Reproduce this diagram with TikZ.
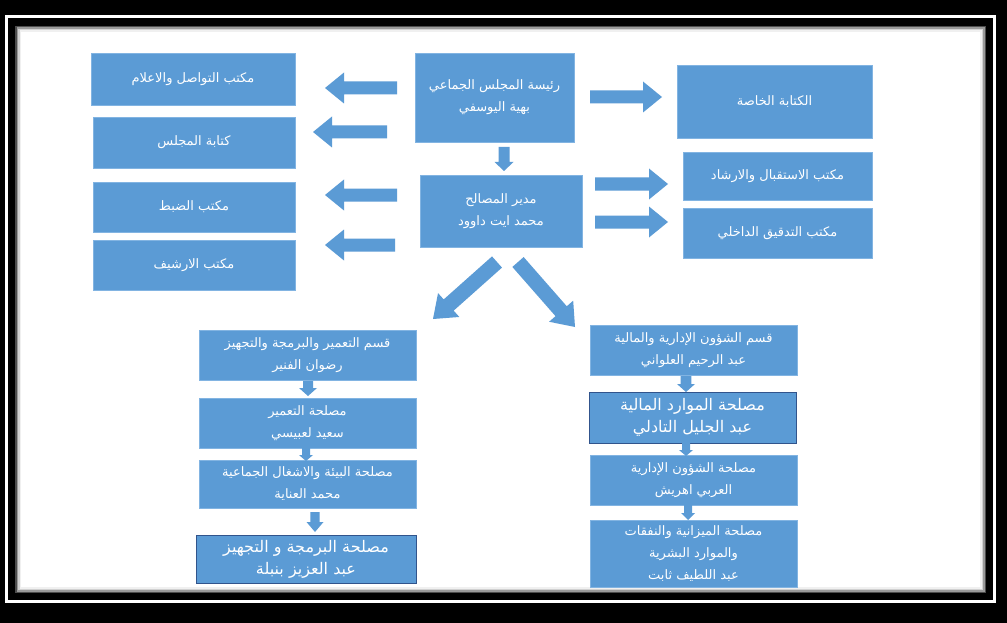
\documentclass[tikz,border=0pt]{standalone}
\usepackage{fontspec}
\newfontfamily\arabicfont[Script=Arabic]{DejaVu Sans}
\TeXXeTstate=1
\usetikzlibrary{calc}
\definecolor{boxblue}{RGB}{91,155,213}
\definecolor{boxedge}{RGB}{130,180,226}
\definecolor{darkedge}{RGB}{49,84,140}
\newcommand\artext[1]{\beginR#1\endR}
% #1 tail coordinate, #2 tip coordinate, #3 half shaft width, #4 half head width, #5 head length
\newcommand\blockarrow[5]{%
  \coordinate (ba-h) at ($(#2)!#5!(#1)$);
  \fill[boxblue] ($(#1)!#3!90:(#2)$) -- ($(ba-h)!#3!90:(#2)$) -- ($(ba-h)!#4!90:(#2)$) -- (#2)
     -- ($(ba-h)!#4!-90:(#2)$) -- ($(ba-h)!#3!-90:(#2)$) -- ($(#1)!#3!-90:(#2)$) -- cycle;}
\begin{document}
\begin{tikzpicture}[x=1pt,y=-1pt,
  orgbox/.style={fill=boxblue, draw=boxedge, line width=0.6pt, text=white, align=center,
    inner sep=0pt, font=\arabicfont\fontsize{13}{22}\selectfont},
  crispbox/.style={orgbox, draw=darkedge, line width=0.8pt, font=\arabicfont\fontsize{16}{22}\selectfont}]
\useasboundingbox (0,0) rectangle (1007,623);
% frame
\fill[black] (0,0) rectangle (1007,623);
\draw[white, line width=3pt] (6.5,16.5) rectangle (994.5,601);
\fill[white] (15,26) rectangle (986,593);
\draw[black!70, line width=1.5pt] (15.75,26.75) rectangle (985.25,592.25);
\draw[black!40, line width=1.5pt] (17.25,28.25) rectangle (983.75,590.75);
\draw[black!18, line width=1.5pt] (18.75,29.75) rectangle (982.25,589.25);
\draw[black!6, line width=1.5pt] (20.25,31.25) rectangle (980.75,587.75);

% top part
\node[orgbox, minimum width=204, minimum height=52] (com) at (193,79) {\artext{مكتب التواصل والاعلام}};
\node[orgbox, minimum width=202, minimum height=51] (kit) at (194,142.5) {\artext{كتابة المجلس}};
\node[orgbox, minimum width=202, minimum height=50] (dabt) at (194,207) {\artext{مكتب الضبط}};
\node[orgbox, minimum width=202, minimum height=50] (arch) at (194,265) {\artext{مكتب الارشيف}};
\node[orgbox, minimum width=159, minimum height=89] (pres) at (494.5,97.5) {\artext{رئيسة المجلس الجماعي}\\\artext{بهية اليوسفي}};
\node[orgbox, minimum width=162, minimum height=72] (dir) at (501,211) {\artext{مدير المصالح}\\\artext{محمد ايت داوود}};
\node[orgbox, minimum width=195, minimum height=73] (khassa) at (774.5,101.5) {\artext{الكتابة الخاصة}};
\node[orgbox, minimum width=189, minimum height=48] (istiqbal) at (777.5,176) {\artext{مكتب الاستقبال والارشاد}};
\node[orgbox, minimum width=189, minimum height=50] (tadqiq) at (777.5,233) {\artext{مكتب التدقيق الداخلي}};

% lower left column
\node[orgbox, minimum width=217, minimum height=50] (q1) at (307.5,355) {\artext{قسم التعمير والبرمجة والتجهيز}\\\artext{رضوان الفنير}};
\node[orgbox, minimum width=217, minimum height=50] (q2) at (307.5,423) {\artext{مصلحة التعمير}\\\artext{سعيد لعبيسي}};
\node[orgbox, minimum width=217, minimum height=48] (q3) at (307.5,484) {\artext{مصلحة البيئة والاشغال الجماعية}\\\artext{محمد العناية}};
\node[crispbox, minimum width=220, minimum height=48] (q4) at (306,559) {\artext{مصلحة البرمجة و التجهيز}\\\artext{عبد العزيز بنبلة}};

% lower right column
\node[orgbox, minimum width=207, minimum height=50] (r1) at (693.5,350) {\artext{قسم الشؤون الإدارية والمالية}\\\artext{عبد الرحيم العلواني}};
\node[crispbox, minimum width=207, minimum height=51] (r2) at (692.5,417.5) {\artext{مصلحة الموارد المالية}\\\artext{عبد الجليل التادلي}};
\node[orgbox, minimum width=207, minimum height=50] (r3) at (693.5,480) {\artext{مصلحة الشؤون الإدارية}\\\artext{العربي اهريش}};
\node[orgbox, minimum width=207, minimum height=67, font=\arabicfont\fontsize{13}{22}\selectfont] (r4) at (693.5,553.5) {\artext{مصلحة الميزانية والنفقات}\\\artext{والموارد البشرية}\\\artext{عبد اللطيف ثابت}};

% arrow end points
\coordinate (a1s) at (397,88);  \coordinate (a1e) at (325,88);
\coordinate (a2s) at (387,132); \coordinate (a2e) at (313,132);
\coordinate (a3s) at (397,195); \coordinate (a3e) at (325,195);
\coordinate (a4s) at (395,245); \coordinate (a4e) at (325,245);
\coordinate (a5s) at (590,97);  \coordinate (a5e) at (662,97);
\coordinate (a6s) at (595,184); \coordinate (a6e) at (668,184);
\coordinate (a7s) at (595,222); \coordinate (a7e) at (668,222);
\coordinate (d1s) at (504,147); \coordinate (d1e) at (504,171);
\coordinate (g1s) at (497,262); \coordinate (g1e) at (433,319);
\coordinate (g2s) at (518,262); \coordinate (g2e) at (575,327);
\coordinate (l1s) at (308,381); \coordinate (l1e) at (308,396);
\coordinate (l2s) at (306,447); \coordinate (l2e) at (306,461);
\coordinate (l3s) at (315,512); \coordinate (l3e) at (315,532);
\coordinate (m1s) at (686,376); \coordinate (m1e) at (686,392);
\coordinate (m2s) at (686,443); \coordinate (m2e) at (686,456);
\coordinate (m3s) at (688,505); \coordinate (m3e) at (688,520);

\blockarrow{a1s}{a1e}{6.5pt}{15.5pt}{19pt}
\blockarrow{a2s}{a2e}{6.5pt}{15.5pt}{19pt}
\blockarrow{a3s}{a3e}{6.5pt}{15.5pt}{19pt}
\blockarrow{a4s}{a4e}{6.5pt}{15.5pt}{19pt}
\blockarrow{a5s}{a5e}{6.5pt}{15.5pt}{19pt}
\blockarrow{a6s}{a6e}{6.5pt}{15.5pt}{19pt}
\blockarrow{a7s}{a7e}{6.5pt}{15.5pt}{19pt}
\blockarrow{d1s}{d1e}{5.5pt}{9.5pt}{9pt}
\blockarrow{g1s}{g1e}{7.5pt}{16pt}{21pt}
\blockarrow{g2s}{g2e}{7.5pt}{16pt}{21pt}
\blockarrow{l1s}{l1e}{5pt}{9pt}{8pt}
\blockarrow{l2s}{l2e}{4pt}{7pt}{6pt}
\blockarrow{l3s}{l3e}{4.7pt}{8.5pt}{10pt}
\blockarrow{m1s}{m1e}{5.3pt}{9pt}{8pt}
\blockarrow{m2s}{m2e}{4pt}{7pt}{6pt}
\blockarrow{m3s}{m3e}{4pt}{7pt}{7pt}
\end{tikzpicture}
\end{document}
